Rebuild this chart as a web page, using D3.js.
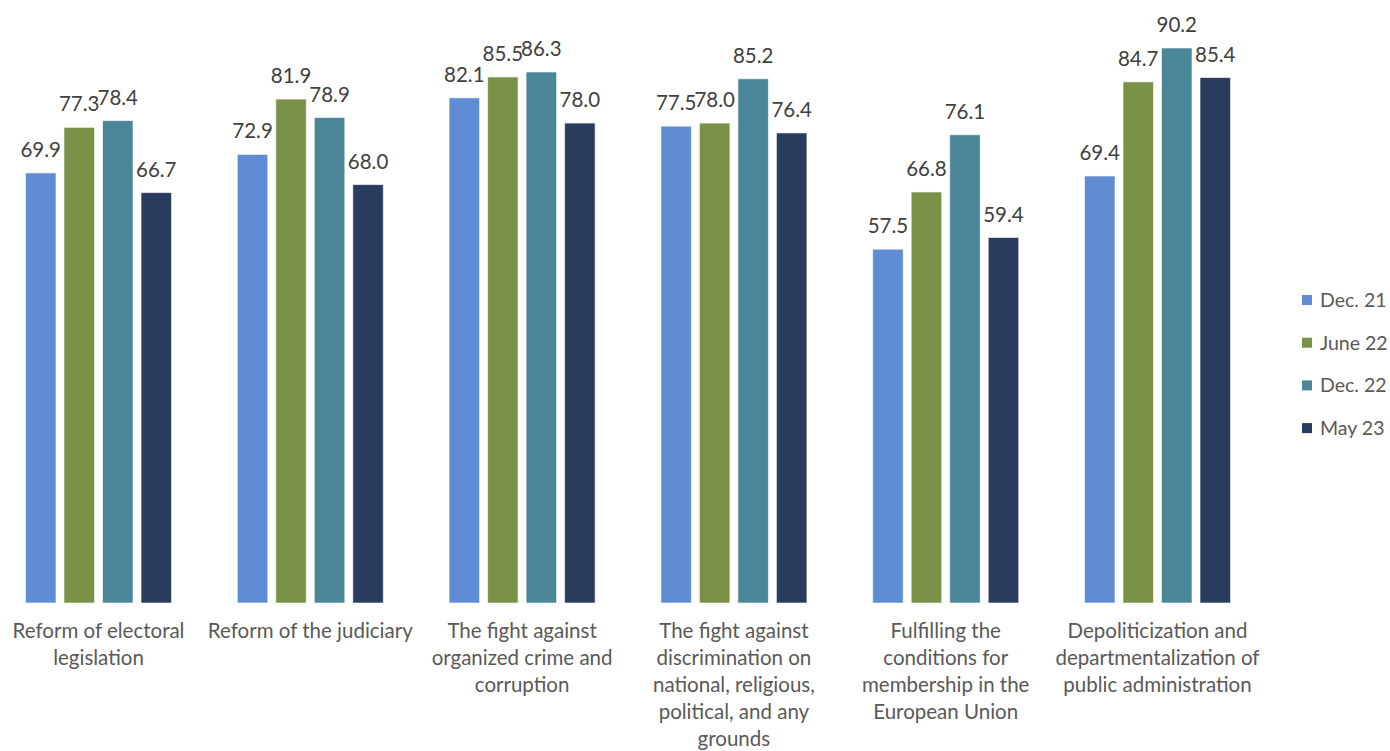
<!DOCTYPE html>
<html>
<head>
<meta charset="utf-8">
<script src="https://cdn.jsdelivr.net/npm/d3@7"></script>
<style>
  html, body { margin: 0; padding: 0; background: #fff; }
  svg { display: block; }
  text { font-family: Lato, "Open Sans", sans-serif; }
</style>
</head>
<body>
<svg id="chart" width="1390" height="751"></svg>
<script>
const categories = [
  "Reform of electoral\nlegislation",
  "Reform of the judiciary",
  "The fight against\norganized crime and\ncorruption",
  "The fight against\ndiscrimination on\nnational, religious,\npolitical, and any\ngrounds",
  "Fulfilling the\nconditions for\nmembership in the\nEuropean Union",
  "Depoliticization and\ndepartmentalization of\npublic administration"
];
const seriesNames = ["Dec. 21", "June 22", "Dec. 22", "May 23"];
const dec21  = [69.9, 72.9, 82.1, 77.5, 57.5, 69.4];
const june22 = [77.3, 81.9, 85.5, 78.0, 66.8, 84.7];
const dec22  = [78.4, 78.9, 86.3, 85.2, 76.1, 90.2];
const may23  = [66.7, 68.0, 78.0, 76.4, 59.4, 85.4];
const seriesValues = [dec21, june22, dec22, may23];
const colors = ["#608cd3", "#7a9147", "#4a8598", "#2a3c5e"];

const svg = d3.select("#chart");
const baseline = 603;

const x0 = d3.scaleBand().domain(d3.range(categories.length)).range([-7.4, 1263.4]).paddingInner(0).paddingOuter(0);
const x1 = d3.scaleBand().domain(d3.range(seriesNames.length)).range([0, x0.bandwidth()]).paddingInner(0.208).paddingOuter(0.854);
const y = d3.scaleLinear().domain([0, 100]).range([baseline, baseline - 615.3]);
const color = d3.scaleOrdinal().domain(d3.range(4)).range(colors);

const groups = svg.append("g").selectAll("g")
  .data(categories.map((c, i) => ({ c, i })))
  .join("g")
  .attr("transform", d => `translate(${x0(d.i)},0)`);

groups.selectAll("rect")
  .data(d => seriesValues.map((s, k) => ({ k, v: s[d.i] })))
  .join("rect")
  .attr("x", d => x1(d.k))
  .attr("y", d => y(d.v))
  .attr("width", x1.bandwidth())
  .attr("height", d => y(0) - y(d.v))
  .attr("fill", d => color(d.k))
  .attr("stroke", "#ffffff")
  .attr("stroke-opacity", 0.6)
  .attr("stroke-width", 1);

groups.selectAll("text.val")
  .data(d => seriesValues.map((s, k) => ({ k, v: s[d.i] })))
  .join("text")
  .attr("class", "val")
  .attr("x", d => x1(d.k) + x1.bandwidth() / 2)
  .attr("y", d => y(d.v) - 16)
  .attr("text-anchor", "middle")
  .attr("font-size", 20.5)
  .attr("fill", "#404040")
  .text(d => d.v.toFixed(1));

// category labels
const xAxis = d3.axisBottom(x0).tickSize(0).tickFormat("");
const axisG = svg.append("g").attr("transform", `translate(0,${baseline})`).call(xAxis);
axisG.select(".domain").remove();
axisG.selectAll(".tick").each(function (d) {
  const t = d3.select(this).append("text")
    .attr("text-anchor", "middle")
    .attr("font-size", 20.5)
    .attr("fill", "#595959");
  categories[d].split("\n").forEach((line, j) => {
    t.append("tspan").attr("x", 0).attr("y", 35 + j * 27).text(line);
  });
});

// legend
const legend = svg.append("g").attr("transform", "translate(1302,300)");
const li = legend.selectAll("g").data(seriesNames).join("g")
  .attr("transform", (d, i) => `translate(0,${i * 42.7})`);
li.append("rect").attr("x", 0).attr("y", -5).attr("width", 10).attr("height", 10)
  .attr("fill", (d, i) => colors[i]);
li.append("text").attr("x", 18).attr("y", 7).attr("font-size", 19.5)
  .attr("fill", "#595959").text(d => d);
</script>
</body>
</html>
